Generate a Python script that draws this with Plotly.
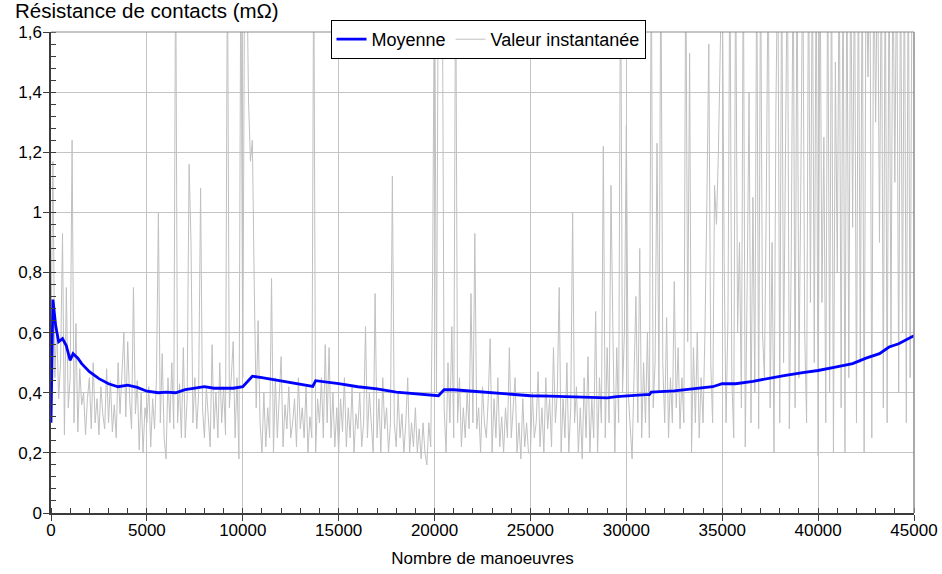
import plotly.graph_objects as go

# Instantaneous contact resistance, sampled every 100 operations (mOhm)
seg_00000 = [0.55, 1.17, 0.45, 0.62, 0.38, 0.50, 0.93, 0.26, 0.75, 0.35,
             0.45, 1.24, 0.30, 0.63, 0.27, 0.48, 0.36, 0.40, 0.26, 0.38,
             0.45, 0.28, 0.50, 0.30, 0.38, 0.26, 0.42, 0.33, 0.28, 0.48,
             0.30, 0.44, 0.27, 0.36, 0.25, 0.50, 0.33, 0.45, 0.60, 0.32,
             0.57, 0.38, 0.28, 0.75, 0.33, 0.44, 0.21, 0.40, 0.20, 0.35]
seg_05000 = [0.30, 0.42, 0.22, 0.38, 0.28, 0.45, 1.00, 0.30, 0.53, 0.25,
             0.18, 0.45, 0.30, 0.50, 0.28, 1.90, 0.30, 0.43, 0.25, 0.55,
             0.25, 0.38, 1.16, 0.90, 0.30, 0.45, 0.28, 0.40, 1.08, 0.35,
             0.25, 0.42, 0.30, 0.22, 0.56, 0.28, 0.40, 0.25, 0.50, 0.30,
             0.42, 0.26, 1.90, 0.35, 0.45, 0.57, 0.25, 0.45, 0.18, 1.90]
seg_10000 = [0.45, 1.90, 1.90, 1.37, 1.17, 1.24, 0.75, 0.35, 0.64, 0.30,
             0.20, 0.40, 0.22, 0.35, 0.25, 0.78, 0.20, 0.45, 0.25, 0.38,
             0.52, 0.22, 0.36, 0.28, 0.42, 0.25, 0.30, 0.38, 0.22, 0.45,
             0.28, 0.35, 0.25, 0.42, 0.20, 0.32, 0.25, 1.90, 0.20, 0.38,
             0.30, 0.45, 0.25, 0.56, 0.30, 0.55, 0.25, 0.40, 0.22, 0.35]
seg_15000 = [0.20, 0.38, 0.27, 0.45, 0.22, 0.35, 0.25, 0.42, 0.20, 0.33,
             0.28, 0.40, 0.22, 0.30, 0.62, 0.25, 0.40, 0.30, 0.20, 0.73,
             0.25, 0.38, 0.20, 0.45, 0.28, 0.35, 0.20, 0.30, 1.12, 0.30,
             0.22, 0.40, 0.25, 0.33, 0.20, 0.30, 0.45, 0.20, 0.30, 0.22,
             0.35, 0.20, 0.28, 0.18, 0.30, 0.20, 0.16, 0.30, 0.22, 0.80]
seg_20000 = [1.90, 0.40, 1.90, 1.90, 1.90, 0.35, 0.20, 0.50, 0.30, 0.62,
             0.25, 1.90, 0.30, 0.45, 0.22, 0.35, 0.25, 0.40, 0.28, 0.73,
             0.30, 0.93, 0.28, 0.35, 0.20, 0.42, 0.30, 0.25, 0.38, 0.58,
             0.20, 0.38, 0.25, 0.45, 0.22, 0.32, 0.20, 0.35, 0.25, 0.55,
             0.25, 0.35, 0.45, 0.20, 0.30, 0.18, 0.38, 0.22, 0.30, 0.20]
seg_25000 = [0.20, 0.40, 0.25, 0.30, 0.47, 0.22, 0.35, 0.20, 0.45, 0.28,
             0.38, 0.22, 0.55, 0.30, 0.40, 0.75, 0.20, 0.38, 0.25, 0.50,
             0.20, 0.35, 1.00, 0.30, 0.42, 0.20, 0.35, 0.18, 0.45, 0.25,
             0.52, 0.20, 0.38, 0.25, 0.67, 0.20, 0.45, 0.30, 1.22, 0.25,
             0.55, 0.30, 1.09, 0.60, 0.20, 0.55, 0.30, 1.90, 0.40, 0.60]
seg_30000 = [1.29, 0.40, 0.30, 0.18, 0.45, 0.72, 0.30, 0.88, 0.25, 0.50,
             0.30, 0.60, 0.25, 1.90, 0.35, 0.50, 1.23, 0.40, 1.90, 0.50,
             0.30, 0.65, 0.25, 0.45, 0.30, 0.77, 0.35, 0.55, 0.28, 0.45,
             0.30, 1.90, 0.57, 1.53, 0.20, 0.55, 0.30, 0.60, 0.25, 0.45,
             0.30, 0.60, 1.04, 1.56, 0.50, 0.30, 1.09, 0.96, 1.20, 1.90]
seg_35000 = [1.90, 0.85, 0.30, 0.65, 1.90, 0.45, 0.25, 1.90, 0.60, 0.90,
             0.35, 1.90, 0.22, 0.75, 1.40, 0.30, 1.05, 0.40, 1.90, 0.28,
             1.90, 0.60, 0.45, 1.05, 1.90, 0.35, 0.90, 0.20, 1.35, 1.90,
             0.30, 1.90, 0.50, 1.20, 1.90, 0.28, 0.85, 1.90, 0.35, 1.90,
             0.45, 1.10, 1.90, 0.60, 0.30, 1.90, 0.70, 1.90, 0.50, 1.90]
seg_40000 = [0.19, 1.90, 0.70, 1.25, 0.30, 1.90, 0.40, 1.90, 0.20, 1.50,
             0.80, 1.90, 0.35, 1.90, 0.20, 1.90, 0.45, 1.90, 0.95, 1.90,
             0.30, 1.90, 0.50, 1.90, 0.20, 1.90, 1.45, 1.90, 0.25, 1.90,
             1.30, 1.90, 0.90, 1.90, 0.35, 1.90, 0.30, 1.90, 0.55, 1.90,
             1.10, 1.90, 0.40, 1.90, 0.60, 1.90, 0.30, 1.90, 0.45, 1.90]
seg_end = [1.60]

instant_values = (seg_00000 + seg_05000 + seg_10000 + seg_15000 + seg_20000
                  + seg_25000 + seg_30000 + seg_35000 + seg_40000 + seg_end)
instant_ops = list(range(0, 45001, 100))

# Running mean of the resistance
mean_ops = [0, 100, 250, 400, 600, 800, 1000, 1150, 1400, 1600, 2000, 2500,
            3000, 3500, 4000, 4500, 5000, 5600, 6000, 6500, 7000, 7500, 8000,
            8500, 9000, 9500, 10000, 10500, 11000, 12000, 13000, 13650, 13800,
            14500, 15000, 16000, 17000, 18000, 19000, 20000, 20200, 20500,
            21000, 22000, 23000, 24000, 25000, 26000, 27000, 28000, 29000,
            29500, 30000, 31000, 31200, 31300, 32500, 33500, 34500, 35000,
            35700, 36600, 37500, 38300, 39200, 40000, 40900, 41800, 42500,
            43200, 43700, 44200, 45000]
mean_values = [0.30, 0.71, 0.62, 0.57, 0.58, 0.556, 0.508, 0.53, 0.515, 0.497,
               0.47, 0.447, 0.43, 0.42, 0.425, 0.418, 0.405, 0.40, 0.402, 0.40,
               0.41, 0.415, 0.42, 0.415, 0.414, 0.415, 0.42, 0.455, 0.45, 0.44,
               0.43, 0.421, 0.44, 0.435, 0.43, 0.42, 0.413, 0.402, 0.397, 0.39,
               0.39, 0.41, 0.41, 0.405, 0.40, 0.394, 0.39, 0.389, 0.387, 0.384,
               0.383, 0.387, 0.39, 0.394, 0.394, 0.402, 0.406, 0.414, 0.42,
               0.43, 0.43, 0.438, 0.449, 0.458, 0.467, 0.474, 0.485, 0.497,
               0.515, 0.53, 0.552, 0.563, 0.59]

x_ticks = [0, 5000, 10000, 15000, 20000, 25000, 30000, 35000, 40000, 45000]
x_tick_text = ["0", "5000", "10000", "15000", "20000", "25000", "30000",
               "35000", "40000", "45000"]
y_ticks = [0, 0.2, 0.4, 0.6, 0.8, 1.0, 1.2, 1.4, 1.6]
y_tick_text = ["0", "0,2", "0,4", "0,6", "0,8", "1", "1,2", "1,4", "1,6"]

FONT = "Liberation Sans, Arial, sans-serif"
GRID = "#c4c4c4"
AXIS = "#3c3c3c"

fig = go.Figure()
fig.add_trace(go.Scatter(
    x=instant_ops, y=instant_values, mode="lines", name="Valeur instantanée",
    line=dict(color="#c0c0c0", width=1)))
fig.add_trace(go.Scatter(
    x=mean_ops, y=mean_values, mode="lines", name="Moyenne",
    line=dict(color="#0000ff", width=2.8)))

fig.update_layout(
    width=942, height=574,
    margin=dict(l=51, r=28, t=32, b=61, autoexpand=False),
    paper_bgcolor="white", plot_bgcolor="white",
    font=dict(family=FONT, size=17, color="black"),
    showlegend=True,
    legend=dict(
        orientation="h", traceorder="reversed",
        x=(488 - 51) / 863, xanchor="center", y=1 + 12 / 481, yanchor="top",
        bgcolor="white", bordercolor="black", borderwidth=1,
        font=dict(family=FONT, size=18), itemwidth=30),
    annotations=[dict(
        text="Résistance de contacts (mΩ)", xref="paper", yref="paper",
        x=-38 / 863, y=1 + 8 / 481, xanchor="left", yanchor="bottom",
        showarrow=False, font=dict(family=FONT, size=20.5, color="black"))],
    shapes=[
        dict(type="line", xref="paper", yref="paper", x0=0, x1=1, y0=1, y1=1,
             line=dict(color="#8c8c8c", width=1)),
        dict(type="line", xref="paper", yref="paper", x0=1, x1=1, y0=0, y1=1,
             line=dict(color="#8c8c8c", width=1.5)),
    ],
)

fig.update_xaxes(
    range=[0, 45000], tickmode="array", tickvals=x_ticks, ticktext=x_tick_text,
    automargin=False,
    showgrid=True, gridcolor=GRID, gridwidth=1, zeroline=False,
    showline=True, linecolor=AXIS, linewidth=1.5,
    ticks="outside", ticklen=6, tickcolor=AXIS, tickwidth=1.2,
    ticklabelstandoff=-5,
    minor=dict(tickmode="linear", tick0=0, dtick=1000, ticks="inside",
               ticklen=5, tickcolor=AXIS, tickwidth=1, showgrid=False),
    tickfont=dict(size=17),
    title=dict(text="Nombre de manoeuvres", font=dict(size=17), standoff=13),
)
fig.update_yaxes(
    range=[0, 1.6], tickmode="array", tickvals=y_ticks, ticktext=y_tick_text,
    automargin=False,
    showgrid=True, gridcolor=GRID, gridwidth=1, zeroline=False,
    showline=True, linecolor=AXIS, linewidth=1.5,
    ticks="outside", ticklen=6, tickcolor=AXIS, tickwidth=1.2,
    ticklabelstandoff=-2,
    minor=dict(tickmode="linear", tick0=0, dtick=0.04, ticks="inside",
               ticklen=5, tickcolor=AXIS, tickwidth=1, showgrid=False),
    tickfont=dict(size=17),
)

fig.write_html("out.html")
